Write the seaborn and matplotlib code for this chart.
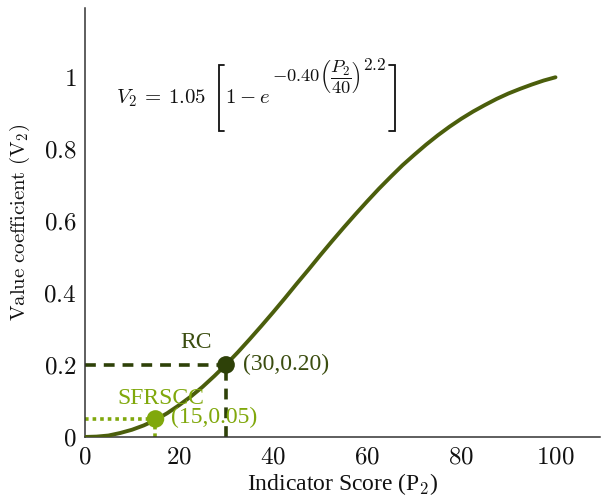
import numpy as np
import pandas as pd
import matplotlib
matplotlib.use("Agg")
import matplotlib.pyplot as plt
from matplotlib.lines import Line2D
import seaborn as sns

# Indicator score P2 and the corresponding value coefficient V2
score = [0, 2.5, 5, 7.5, 10, 12.5, 15, 17.5, 20, 22.5, 25, 27.5, 30, 32.5, 35,
         37.5, 40, 42.5, 45, 47.5, 50, 52.5, 55, 57.5, 60, 62.5, 65, 67.5, 70,
         72.5, 75, 77.5, 80, 82.5, 85, 87.5, 90, 92.5, 95, 97.5, 100]
value = [0.000, 0.001, 0.004, 0.011, 0.020, 0.032, 0.047, 0.066, 0.088, 0.112,
         0.139, 0.169, 0.201, 0.235, 0.271, 0.308, 0.346, 0.385, 0.425, 0.464,
         0.504, 0.543, 0.581, 0.618, 0.654, 0.689, 0.722, 0.754, 0.783, 0.811,
         0.837, 0.861, 0.883, 0.903, 0.921, 0.938, 0.953, 0.966, 0.978, 0.989,
         0.998]

# Highlighted reference points
pt_names = ["RC", "SFRSCC"]
pt_x = [30, 15]
pt_y = [0.20, 0.05]

x_ticks = [0, 20, 40, 60, 80, 100]
y_ticks = [0, 0.2, 0.4, 0.6, 0.8, 1]
y_tick_labels = ["0", "0.2", "0.4", "0.6", "0.8", "1"]

sns.set_theme(style="white")
plt.rcParams["font.family"] = ["DejaVu Serif"]
plt.rcParams["mathtext.fontset"] = "cm"
plt.rcParams["axes.unicode_minus"] = False

curve_color = "#4b5e0c"
rc_color = "#2e4108"
rc_text = "#3b4d10"
sf_color = "#80a80c"
ink = "#111111"

W, H = 602, 504
fig = plt.figure(figsize=(W / 100, H / 100), dpi=100)
ax = fig.add_axes([0.141, 0.133, 0.856, 0.851])

df = pd.DataFrame({"P": score, "V": value})
sns.lineplot(data=df, x="P", y="V", ax=ax, color=curve_color, linewidth=2.8,
             zorder=3)

# Guide lines from each highlighted point to the axes
ax.plot([0, pt_x[0]], [pt_y[0], pt_y[0]], color=rc_color, lw=2.6,
        linestyle=(0, (3, 2.2)), zorder=2)
ax.plot([pt_x[0], pt_x[0]], [0, pt_y[0]], color=rc_color, lw=2.6,
        linestyle=(0, (3, 2.2)), zorder=2)
ax.plot([0, pt_x[1]], [pt_y[1], pt_y[1]], color=sf_color, lw=2.6,
        linestyle=(0, (1, 1.1)), zorder=2)
ax.plot([pt_x[1], pt_x[1]], [0, pt_y[1]], color=sf_color, lw=2.6,
        linestyle=(0, (1, 1.1)), zorder=2)

pts = pd.DataFrame({"P": pt_x, "V": pt_y, "name": pt_names})
sns.scatterplot(data=pts, x="P", y="V", hue="name",
                palette={"RC": rc_color, "SFRSCC": sf_color},
                s=160, edgecolor="none", legend=False, ax=ax, zorder=4)

serif = ["Liberation Serif", "DejaVu Serif"]
ax.text(23.6, 0.263, pt_names[0], color=rc_text, fontsize=17, family=serif,
        ha="center", va="center")
ax.text(33.6, 0.202, f"({pt_x[0]},{pt_y[0]:.2f})", color=rc_text, fontsize=17,
        family=serif, ha="left", va="center")
ax.text(16.1, 0.108, pt_names[1], color=sf_color, fontsize=17, family=serif,
        ha="center", va="center")
ax.text(18.4, 0.053, f"({pt_x[1]},{pt_y[1]:.2f})", color=sf_color, fontsize=17,
        family=serif, ha="left", va="center")


# Formula box: pieces placed in pixel positions of the figure
def ftext(px, py, s, size):
    return fig.text(px / W, 1 - py / H, s, fontsize=size, ha="left",
                    va="baseline", color=ink)


def bracket(px, top, bottom, arm):
    xs = [px + arm, px, px, px + arm]
    ys = [top, top, bottom, bottom]
    fig.add_artist(Line2D([x / W for x in xs], [1 - y / H for y in ys],
                          transform=fig.transFigure, color=ink, lw=1.3,
                          solid_joinstyle="miter"))


ftext(116, 103, r"$V_2\:=\:1.05$", 15)
bracket(219, 65, 131, 5)
ftext(225, 103, r"$1\:-\:e$", 15)
expo = ftext(272, 82, r"$-0.40\left(\dfrac{P_2}{40}\right)$", 13.3)
fig.canvas.draw()
expo_end = expo.get_window_extent().x1
power = ftext(expo_end + 2, 70, r"$2.2$", 12.5)
fig.canvas.draw()
power_end = power.get_window_extent().x1
bracket(power_end + 9, 65, 131, -6)

ax.set_xlim(0, 109.5)
ax.set_ylim(0, 1.19)
ax.set_xticks(x_ticks)
ax.set_xticklabels([f"${t}$" for t in x_ticks])
ax.set_yticks(y_ticks)
ax.set_yticklabels([f"${t}$" for t in y_tick_labels])
ax.tick_params(direction="in", length=7, width=1.0, colors="#333333",
               labelsize=18, labelcolor=ink, pad=6)

ax.set_xlabel(r"Indicator Score (P$_2$)", fontsize=17, family=serif,
              color=ink, labelpad=2)
ax.set_ylabel(r"$\mathrm{Value\ coefficient\ (V_2)}$", fontsize=15,
              color=ink, labelpad=8)

for side in ["top", "right"]:
    ax.spines[side].set_visible(False)
for side in ["left", "bottom"]:
    ax.spines[side].set_color("#333333")
    ax.spines[side].set_linewidth(1.1)

fig.savefig("out.png", dpi=100)
